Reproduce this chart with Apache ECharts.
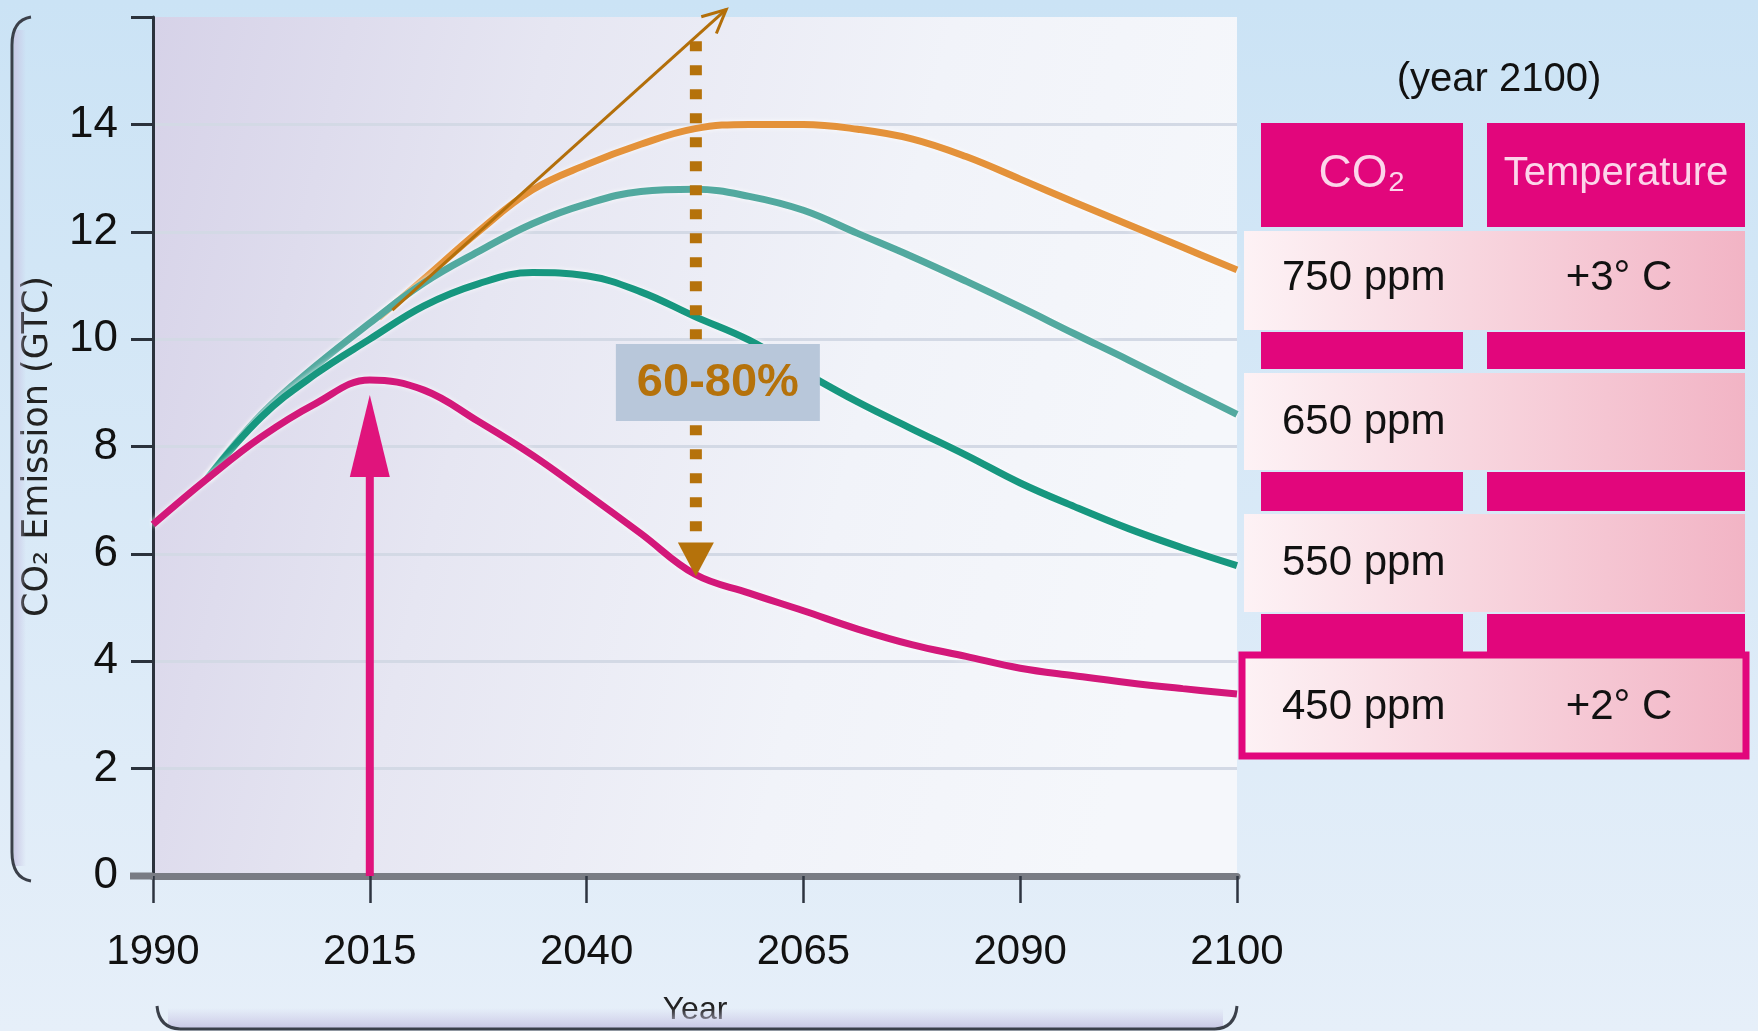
<!DOCTYPE html>
<html><head><meta charset="utf-8">
<script src="https://cdn.jsdelivr.net/npm/echarts@6/dist/echarts.min.js"></script>
<style>html,body{margin:0;padding:0;background:#d8eaf7;} #c{width:1758px;height:1031px;}</style>
</head><body><div id="c"></div>
<script>
// ---------- data ----------
const xTickLabels = ['1990','2015','2040','2065','2090','2100'];
const tickYears = [1990, 2015, 2040, 2065, 2090, 2100];
const yTickMax = 16;

const ppm450Years = [1990, 1996.25, 2002.5, 2008.75, 2015, 2021.25, 2027.5, 2033.75, 2040, 2046.25, 2052.5, 2058.75, 2065, 2071.25, 2077.5, 2083.75, 2090, 2092.5, 2095, 2097.5, 2100];
const ppm450 =      [6.55, 7.4,     8.18,   8.8,     9.24, 9.05,    8.47,   7.84,    7.12, 6.38,    5.62,   5.27,    4.94, 4.6,     4.31,   4.09,    3.87, 3.73,   3.6,  3.49,   3.39];

const ppm550Years = [1996.25, 2002.5, 2008.75, 2015, 2021.25, 2027.5, 2033.75, 2040, 2046.25, 2052.5, 2058.75, 2065, 2071.25, 2077.5, 2083.75, 2090, 2092.5, 2095, 2097.5, 2100];
const ppm550 =      [7.4,     8.55,   9.35,    10.0, 10.62,   11.03,  11.24,   11.18,10.88,   10.42,  9.98,    9.39, 8.83,    8.33,   7.84,    7.32, 6.88,   6.47, 6.11,   5.78];

const ppm650Years = [1996.25, 2002.5, 2008.75, 2015, 2021.25, 2027.5, 2033.75, 2040, 2046.25, 2052.5, 2058.75, 2065, 2071.25, 2077.5, 2083.75, 2090, 2092.5, 2095, 2097.5, 2100];
const ppm650 =      [7.4,     8.6,    9.5,     10.3, 11.05,   11.63,  12.15,   12.52,12.75,   12.79,  12.66,   12.4, 11.97,   11.54,  11.08,   10.6, 10.1,   9.61, 9.1,    8.6];

const ppm750Years = [2016, 2021.25, 2027.5, 2033.75, 2040, 2046.25, 2052.5, 2058.75, 2065, 2071.25, 2077.5, 2083.75, 2090, 2092.5, 2095, 2097.5, 2100];
const ppm750 =      [10.4, 11.12,   12.0,   12.78,   13.25,13.63,   13.92,  14.0,    14.0, 13.91,   13.73,  13.4,    12.98,12.55,  12.13,11.71,  11.29];

// annotation anchors (data coordinates: [year, value])
const peakArrow = [[2015, 0], [2015, 8.96]];
const cutArrow = [[2052.6, 15.55], [2052.6, 5.58]];
const cutLabel = '60-80%';
const trendArrow = [[2017.6, 10.54], [2056.1, 16.14]];

// table
const tableTitle = '(year 2100)';
const tableHeaders = ['CO₂', 'Temperature'];
const tableCO2 = ['750 ppm', '650 ppm', '550 ppm', '450 ppm'];
const tableTemp = ['+3° C', '', '', '+2° C'];

// ---------- helpers ----------
function pos(yr){
  for (let i = 0; i < tickYears.length - 1; i++) {
    if (yr <= tickYears[i+1]) return i + (yr - tickYears[i]) / (tickYears[i+1] - tickYears[i]);
  }
  return tickYears.length - 1;
}
const toData = (ys, vs) => ys.map((y, i) => [pos(y), vs[i]]);

const FONT = "'Liberation Sans', Arial, sans-serif";
const chart = echarts.init(document.getElementById('c'), null, {renderer: 'canvas'});

const lineSeries = (name, ys, vs, color) => ({
  name, type: 'line', data: toData(ys, vs), smooth: 0.4, showSymbol: false,
  lineStyle: {color, width: 7, shadowColor: 'rgba(255,255,255,0.9)', shadowBlur: 5},
  itemStyle: {color}, z: 3
});

const gl = '#d3d9e5', tr = 'rgba(0,0,0,0)';
chart.setOption({
  animation: false,
  backgroundColor: {type: 'linear', x: 0, y: 0, x2: 0, y2: 1, colorStops: [{offset: 0, color: '#cbe3f5'}, {offset: 1, color: '#e6eff9'}]},
  grid: {left: 153, right: 521, top: 17, bottom: 151, show: true, borderWidth: 0,
    backgroundColor: {type: 'linear', x: 0, y: 0, x2: 1, y2: 0.3, colorStops: [
      {offset: 0, color: '#d6d2e8'}, {offset: 0.35, color: '#e6e6f2'}, {offset: 0.7, color: '#f1f3f9'}, {offset: 1, color: '#f5f7fb'}]}},
  xAxis: {
    type: 'value', min: 0, max: 5, interval: 1,
    axisLine: {show: true, lineStyle: {color: '#797c84', width: 7}},
    axisTick: {show: true, length: 27, lineStyle: {color: '#2e3440', width: 2.5}},
    axisLabel: {formatter: v => xTickLabels[Math.round(v)], fontFamily: FONT, fontSize: 42, color: '#111', margin: 55},
    splitLine: {show: false},
    name: 'Year', nameLocation: 'middle', nameGap: 118,
    nameTextStyle: {fontFamily: FONT, fontSize: 32, color: '#222'}
  },
  yAxis: {
    type: 'value', min: 0, max: yTickMax, interval: 2,
    axisLine: {show: true, lineStyle: {color: '#2b323c', width: 3}},
    axisTick: {show: true, length: 22, lineStyle: {color: '#2b323c', width: 3}},
    axisLabel: {formatter: v => v === yTickMax ? '' : String(v), fontFamily: FONT, fontSize: 44, color: '#111', margin: 35},
    splitLine: {show: true, lineStyle: {color: [tr, gl, gl, gl, gl, gl, gl, gl, tr], width: 3}},
    name: 'CO₂ Emission (GTC)', nameLocation: 'middle', nameGap: 98, nameRotate: 90,
    nameTextStyle: {fontFamily: "'DejaVu Sans', sans-serif", fontSize: 35, color: '#222'}
  },
  series: [
    lineSeries('750 ppm', ppm750Years, ppm750, '#e4923a'),
    lineSeries('650 ppm', ppm650Years, ppm650, '#52a99f'),
    lineSeries('550 ppm', ppm550Years, ppm550, '#17977f'),
    lineSeries('450 ppm', ppm450Years, ppm450, '#d3187a')
  ]
});

// ---------- annotations (positioned through the chart's own scales) ----------
const P = (d) => chart.convertToPixel({gridIndex: 0}, [pos(d[0]), d[1]]);
const g = [];

const o = P([1990, 0]);
g.push({type: 'line', shape: {x1: o[0] - 23, y1: o[1], x2: o[0], y2: o[1]}, style: {stroke: '#797c84', lineWidth: 7}, z: 5});

const pa0 = P(peakArrow[0]), pa1 = P(peakArrow[1]);
g.push({type: 'line', shape: {x1: pa0[0], y1: pa0[1], x2: pa1[0], y2: pa1[1] + 70}, style: {stroke: '#e0147c', lineWidth: 8}, z: 10});
g.push({type: 'polygon', shape: {points: [[pa1[0], pa1[1]], [pa1[0] - 20, pa1[1] + 82], [pa1[0] + 20, pa1[1] + 82]]}, style: {fill: '#e0147c'}, z: 10});

const ca0 = P(cutArrow[0]), ca1 = P(cutArrow[1]);
g.push({type: 'line', shape: {x1: ca0[0], y1: ca0[1], x2: ca1[0], y2: ca1[1] - 33}, style: {stroke: '#b5720b', lineWidth: 12, lineDash: [10, 14], lineCap: 'butt'}, z: 10});
g.push({type: 'polygon', shape: {points: [[ca1[0], ca1[1]], [ca1[0] - 18, ca1[1] - 34], [ca1[0] + 18, ca1[1] - 34]]}, style: {fill: '#b5720b'}, z: 10});
g.push({type: 'rect', shape: {x: ca0[0] - 80, y: 344, width: 204, height: 77}, style: {fill: '#b8c7da'}, z: 11});
g.push({type: 'text', x: ca0[0] + 22, y: 383, style: {text: cutLabel, fill: '#b5720b', font: "bold 47px " + FONT, align: 'center', verticalAlign: 'middle'}, z: 12});

const ta0 = P(trendArrow[0]), ta1 = P(trendArrow[1]);
g.push({type: 'line', shape: {x1: ta0[0], y1: ta0[1], x2: ta1[0], y2: ta1[1]}, style: {stroke: '#b36f0a', lineWidth: 3}, z: 10});
{
  const ang = Math.atan2(ta1[1] - ta0[1], ta1[0] - ta0[0]);
  const L = 26, a = Math.PI / 7;
  g.push({type: 'polyline', shape: {points: [
    [ta1[0] - L * Math.cos(ang - a), ta1[1] - L * Math.sin(ang - a)],
    [ta1[0], ta1[1]],
    [ta1[0] - L * Math.cos(ang + a), ta1[1] - L * Math.sin(ang + a)]]},
    style: {stroke: '#b36f0a', lineWidth: 3, fill: null}, z: 10});
}

const BR = {stroke: '#3b404a', lineWidth: 3, fill: null};
g.push({type: 'rect', shape: {x: 14, y: 30, width: 12, height: 836}, style: {fill: {type: 'linear', x: 0, y: 0, x2: 1, y2: 0, colorStops: [{offset: 0, color: 'rgba(200,198,228,0.9)'}, {offset: 1, color: 'rgba(200,198,228,0)'}]}}, z: 1});
g.push({type: 'bezierCurve', shape: {x1: 31, y1: 17, cpx1: 12, cpy1: 20, x2: 12, y2: 45}, style: BR, z: 2});
g.push({type: 'line', shape: {x1: 12, y1: 45, x2: 12, y2: 852}, style: BR, z: 2});
g.push({type: 'bezierCurve', shape: {x1: 12, y1: 852, cpx1: 12, cpy1: 878, x2: 31, y2: 881}, style: BR, z: 2});
g.push({type: 'rect', shape: {x: 168, y: 1008, width: 1055, height: 20}, style: {fill: {type: 'linear', x: 0, y: 0, x2: 0, y2: 1, colorStops: [{offset: 0, color: 'rgba(205,203,232,0)'}, {offset: 1, color: 'rgba(200,198,228,0.95)'}]}}, z: 1});
g.push({type: 'bezierCurve', shape: {x1: 157, y1: 1006, cpx1: 159, cpy1: 1028, x2: 180, y2: 1029}, style: BR, z: 2});
g.push({type: 'line', shape: {x1: 180, y1: 1029, x2: 1215, y2: 1029}, style: BR, z: 2});
g.push({type: 'bezierCurve', shape: {x1: 1215, y1: 1029, cpx1: 1235, cpy1: 1028, x2: 1237, y2: 1006}, style: BR, z: 2});

// ---------- table ----------
const MAG = '#e2067c';
const rowFill = {type: 'linear', x: 0, y: 0, x2: 1, y2: 0, colorStops: [{offset: 0, color: '#fdf2f5'}, {offset: 0.45, color: '#f8d6df'}, {offset: 1, color: '#f2b4c5'}]};
const colA = [1261, 1463], colB = [1487, 1745];
g.push({type: 'text', x: 1499, y: 80, style: {text: tableTitle, font: "40px " + FONT, fill: '#111', align: 'center', verticalAlign: 'middle'}, z: 5});
g.push({type: 'rect', shape: {x: colA[0], y: 123, width: colA[1] - colA[0], height: 104}, style: {fill: MAG}, z: 5});
g.push({type: 'rect', shape: {x: colB[0], y: 123, width: colB[1] - colB[0], height: 104}, style: {fill: MAG}, z: 5});
g.push({type: 'text', x: (colA[0] + colA[1]) / 2, y: 174, style: {text: tableHeaders[0], font: "46px " + FONT, fill: '#fcd5ea', align: 'center', verticalAlign: 'middle'}, z: 6});
g.push({type: 'text', x: (colB[0] + colB[1]) / 2, y: 174, style: {text: tableHeaders[1], font: "40px " + FONT, fill: '#fcd5ea', align: 'center', verticalAlign: 'middle'}, z: 6});
[[332, 37], [472, 39], [614, 40]].forEach(([y, h]) => {
  g.push({type: 'rect', shape: {x: colA[0], y, width: colA[1] - colA[0], height: h}, style: {fill: MAG}, z: 5});
  g.push({type: 'rect', shape: {x: colB[0], y, width: colB[1] - colB[0], height: h}, style: {fill: MAG}, z: 5});
});
[[231, 99], [373, 97], [514, 98]].forEach(([y, h]) => {
  g.push({type: 'rect', shape: {x: 1244, y, width: 501, height: h}, style: {fill: rowFill}, z: 5});
});
g.push({type: 'rect', shape: {x: 1242, y: 655, width: 504, height: 101}, style: {fill: rowFill, stroke: MAG, lineWidth: 7}, z: 5});
const rowTextY = [278, 422, 563, 707];
tableCO2.forEach((t, i) => {
  g.push({type: 'text', x: 1282, y: rowTextY[i], style: {text: t, font: "42px " + FONT, fill: '#111', align: 'left', verticalAlign: 'middle'}, z: 6});
  if (tableTemp[i]) g.push({type: 'text', x: 1619, y: rowTextY[i], style: {text: tableTemp[i], font: "42px " + FONT, fill: '#111', align: 'center', verticalAlign: 'middle'}, z: 6});
});

chart.setOption({graphic: g});
</script>
</body></html>
